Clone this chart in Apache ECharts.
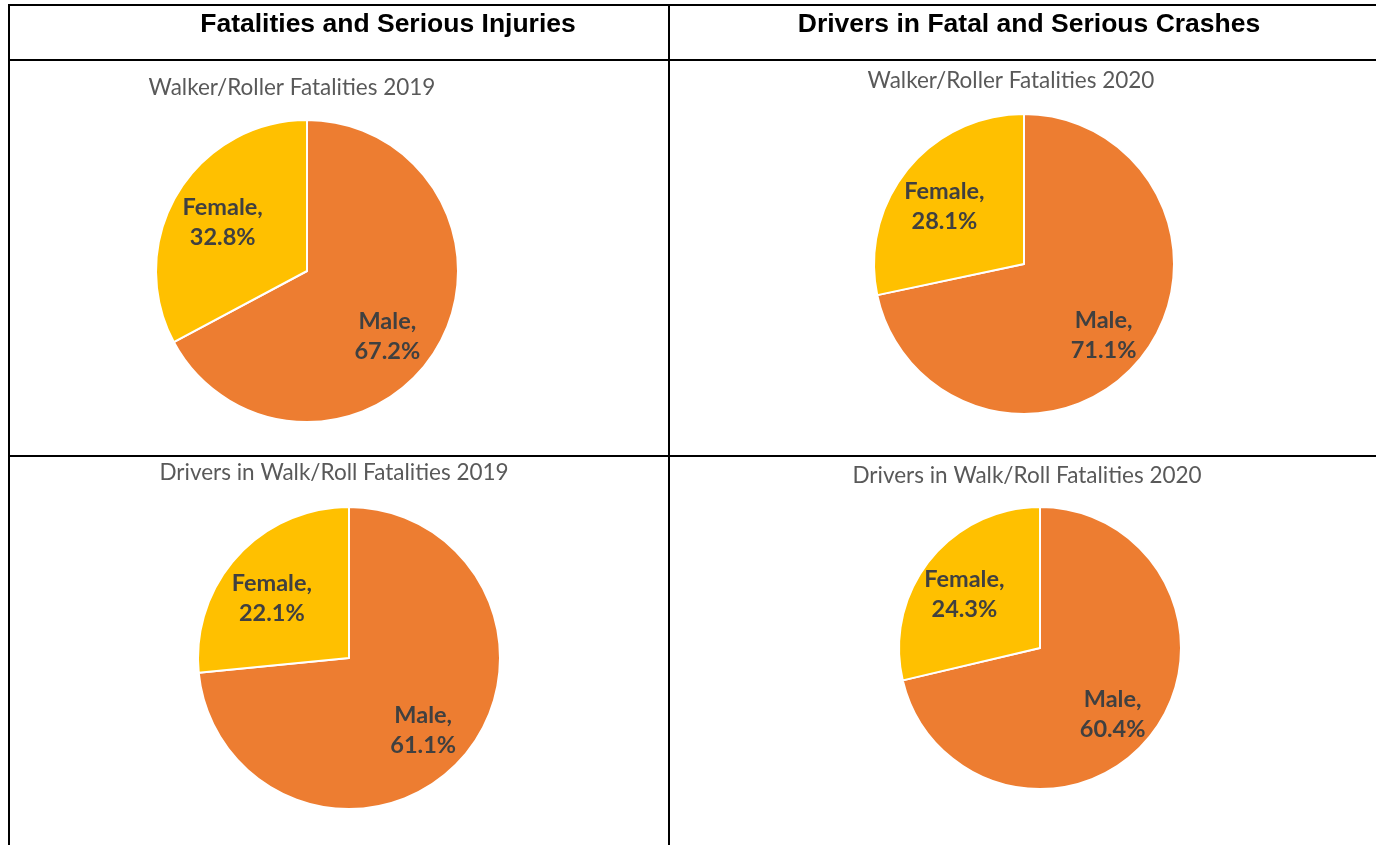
<!DOCTYPE html>
<html>
<head>
<meta charset="utf-8">
<script src="https://cdn.jsdelivr.net/npm/echarts@6/dist/echarts.min.js"></script>
<style>
  html, body { margin: 0; padding: 0; background: #fff; }
  #main { width: 1376px; height: 845px; }
</style>
</head>
<body>
<div id="main"></div>
<script>
// data
var categories = ['Male', 'Female'];
var walker2019 = [67.2, 32.8];
var walker2020 = [71.1, 28.1];
var drivers2019 = [61.1, 22.1];
var drivers2020 = [60.4, 24.3];
var headers = ['Fatalities and Serious Injuries', 'Drivers in Fatal and Serious Crashes'];
var pieTitles = ['Walker/Roller Fatalities 2019', 'Walker/Roller Fatalities 2020',
                 'Drivers in Walk/Roll Fatalities 2019', 'Drivers in Walk/Roll Fatalities 2020'];

var colors = ['#ED7D31', '#FFC000'];
var labelFont = 'Lato, "Open Sans", sans-serif';

function makeData(values, offsets) {
  return categories.map(function (c, i) {
    return {
      name: c,
      value: values[i],
      itemStyle: { color: colors[i] },
      label: { offset: offsets[i] }
    };
  });
}

function pieSeries(values, center, radius, offsets) {
  return {
    type: 'pie',
    center: center,
    radius: radius,
    startAngle: 90,
    clockwise: true,
    silent: true,
    animation: false,
    itemStyle: { borderColor: '#fff', borderWidth: 2 },
    label: {
      show: true,
      position: 'inside',
      formatter: function (p) { return p.name + ',\n' + p.value.toFixed(1) + '%'; },
      color: '#404040',
      fontFamily: labelFont,
      fontWeight: 'bold',
      fontSize: 23.5,
      lineHeight: 30
    },
    labelLine: { show: false },
    data: makeData(values, offsets)
  };
}

function hline(y) {
  return { type: 'line', shape: { x1: 8, y1: y, x2: 1376, y2: y }, style: { stroke: '#000', lineWidth: 2 } };
}
function vline(x) {
  return { type: 'line', shape: { x1: x, y1: 4, x2: x, y2: 845 }, style: { stroke: '#000', lineWidth: 2 } };
}

var chart = echarts.init(document.getElementById('main'));

var subStyle = { color: '#595959', fontFamily: labelFont, fontWeight: 'normal', fontSize: 22.5 };
var headStyle = { color: '#000', fontFamily: '"Liberation Sans", Arial, sans-serif', fontWeight: 'bold', fontSize: 26.5 };

chart.setOption({
  backgroundColor: '#fff',
  title: [
    { text: headers[0], left: 383, top: 6, textAlign: 'center', textStyle: headStyle },
    { text: headers[1], left: 1024, top: 6, textAlign: 'center', textStyle: headStyle },
    { text: pieTitles[0], left: 287, top: 71, textAlign: 'center', textStyle: subStyle },
    { text: pieTitles[1], left: 1006, top: 64, textAlign: 'center', textStyle: subStyle },
    { text: pieTitles[2], left: 329, top: 456, textAlign: 'center', textStyle: subStyle },
    { text: pieTitles[3], left: 1022, top: 459, textAlign: 'center', textStyle: subStyle }
  ],
  graphic: [hline(5), hline(60), hline(456), vline(9), vline(669)],
  series: [
    pieSeries(walker2019, [307, 271], 151, [[13, 25], [-17, -8]]),
    pieSeries(walker2020, [1024, 264], 150, [[19, 22], [-19, -8]]),
    pieSeries(drivers2019, [349, 658], 151, [[16, 20], [-19, -7]]),
    pieSeries(drivers2020, [1040, 648], 141, [[15, 21], [-18, -8]])
  ]
});
</script>
</body>
</html>
